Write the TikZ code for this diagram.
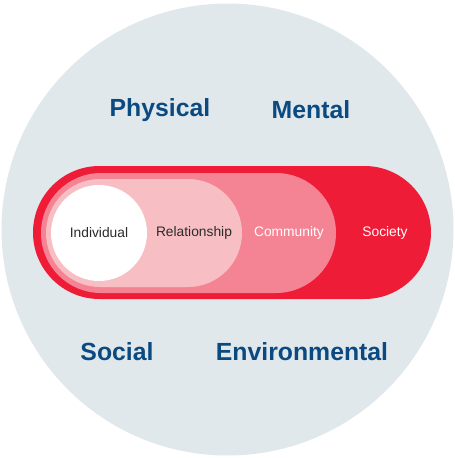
\documentclass[tikz,border=0pt]{standalone}
\usepackage{fontspec}
\setmainfont{Liberation Sans}
\usepackage{xcolor}
\definecolor{bggray}{HTML}{E1E8EC}
\definecolor{socred}{HTML}{EE1C37}
\definecolor{compink}{HTML}{F48494}
\definecolor{relpink}{HTML}{F7BFC3}
\definecolor{dimblue}{HTML}{0B4A80}
\definecolor{txtgray}{HTML}{2B2B2B}
\tikzset{
  dimension/.style={text=dimblue,font=\fontsize{24.8}{28}\selectfont\bfseries},
  level/.style={font=\fontsize{13.8}{16}\selectfont}
}
\begin{document}
\begin{tikzpicture}[x=1pt,y=-1pt]
 \useasboundingbox (0,0) rectangle (455,458);
 \path[fill=bggray] (227.5,229.5) circle (226);

% nested levels
 \path[fill=socred,rounded corners=66.5] (33,166) rectangle (431,299);
 \path[fill=compink,rounded corners=60] (41,173) rectangle (336,293);
 \path[fill=relpink,rounded corners=54] (46,179) rectangle (242,287);
 \path[fill=white] (99,233) circle (48);

 \node[level,text=txtgray] (individual) at (99,233) {Individual};
 \node[level,text=txtgray] (relationship) at (194,233) {Relationship};
 \node[level,text=white] (community) at (289,233) {Community};
 \node[level,text=white] (society) at (385,233) {Society};

% dimensions
 \node[dimension] (physical) at (160,110) {Physical};
 \node[dimension] (mental) at (311,110) {Mental};
 \node[dimension] (social) at (117,352) {Social};
 \node[dimension] (environmental) at (302,352) {Environmental};
\end{tikzpicture}
\end{document}
